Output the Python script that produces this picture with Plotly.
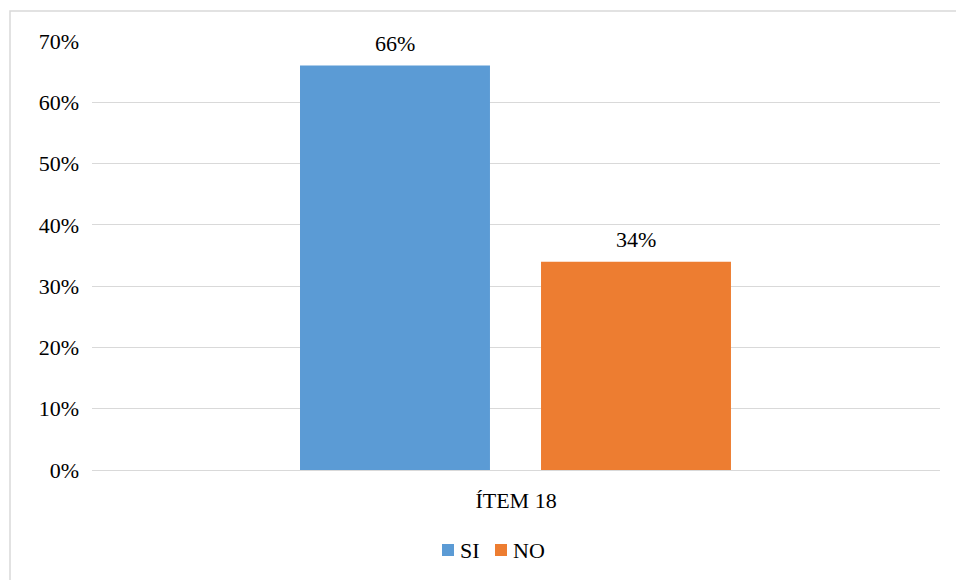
import plotly.graph_objects as go

# Chart data
categories = ["ÍTEM 18"]
series_names = ["SI", "NO"]
series_values = [[0.66], [0.34]]
series_colors = ["#5B9BD5", "#ED7D31"]
y_ticks = [0, 0.1, 0.2, 0.3, 0.4, 0.5, 0.6, 0.7]

FONT = "'Times New Roman', 'Liberation Serif', 'DejaVu Serif', serif"
FS = 22
BAR_WIDTH = 0.224
BAR_OFFSETS = [-0.2547, 0.0295]

W, H = 956, 580
ml, mr, mt, mb = 92, 16, 41, 110
pw, ph = W - ml - mr, H - mt - mb


def px_x(x):
    return (x - ml) / pw


def px_y(y):
    return (H - mb - y) / ph


fig = go.Figure()
for name, vals, color, off in zip(series_names, series_values, series_colors, BAR_OFFSETS):
    fig.add_trace(go.Bar(
        x=categories, y=vals, name=name,
        marker=dict(color=color, line=dict(width=0)),
        width=BAR_WIDTH, offset=off, showlegend=False,
    ))
    # value label above each bar
    for i, v in enumerate(vals):
        fig.add_annotation(
            x=i + off + BAR_WIDTH / 2, y=v, xref="x", yref="y",
            text=f"{round(v * 100)}%", showarrow=False,
            yanchor="bottom", yshift=8,
            font=dict(family=FONT, size=FS, color="#000000"),
        )

# compact legend below the axis: square swatch followed by the series name
legend_x = [442, 495]
for name, color, lx in zip(series_names, series_colors, legend_x):
    fig.add_shape(
        type="rect", xref="paper", yref="paper",
        x0=px_x(lx), x1=px_x(lx + 12), y0=px_y(556), y1=px_y(544),
        line=dict(width=0), fillcolor=color,
    )
    fig.add_annotation(
        x=px_x(lx + 16), y=px_y(550), xref="paper", yref="paper",
        text=name, showarrow=False, xanchor="left", yanchor="middle",
        font=dict(family=FONT, size=FS, color="#000000"),
    )

# light frame around the chart area
fig.add_shape(
    type="rect", xref="paper", yref="paper",
    x0=px_x(10), x1=px_x(W + 10), y0=px_y(H + 10), y1=px_y(11),
    line=dict(color="#d9d9d9", width=1.5), fillcolor="rgba(0,0,0,0)", layer="below",
)

fig.update_layout(
    width=W, height=H,
    margin=dict(l=ml, r=mr, t=mt, b=mb),
    barmode="overlay",
    plot_bgcolor="white", paper_bgcolor="white",
    font=dict(family=FONT, size=FS, color="#000000"),
    showlegend=False,
    xaxis=dict(
        showgrid=False, showline=True, linecolor="#d9d9d9", linewidth=1.3,
        ticks="", tickfont=dict(family=FONT, size=FS), ticklabelstandoff=10,
    ),
    yaxis=dict(
        range=[0, 0.7], tickvals=y_ticks, tickformat=".0%",
        showgrid=True, gridcolor="#d9d9d9", gridwidth=1.3,
        zeroline=False, showline=False, ticks="",
        tickfont=dict(family=FONT, size=FS), ticklabelstandoff=12,
    ),
)

fig.write_html("out.html")
